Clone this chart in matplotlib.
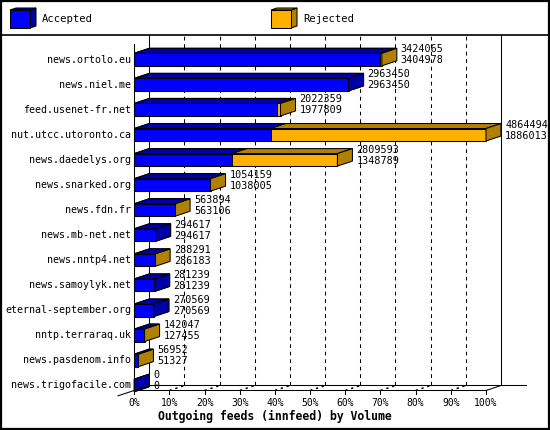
import matplotlib
matplotlib.use("Agg")
import matplotlib.pyplot as plt
from matplotlib.patches import Polygon, Rectangle

# ── Data ──────────────────────────────────────────────────────────────────────
hosts = [
    "news.ortolo.eu", "news.niel.me", "feed.usenet-fr.net", "nut.utcc.utoronto.ca",
    "news.daedelys.org", "news.snarked.org", "news.fdn.fr", "news.mb-net.net",
    "news.nntp4.net", "news.samoylyk.net", "eternal-september.org",
    "nntp.terraraq.uk", "news.pasdenom.info", "news.trigofacile.com",
]
# first number beside each bar (orange bar)
rejected = [3424065, 2963450, 2022359, 4864494, 2809593, 1054159, 563894,
            294617, 288291, 281239, 270569, 142047, 56952, 0]
# second number beside each bar (blue bar)
accepted = [3404978, 2963450, 1977809, 1886013, 1348789, 1038005, 563106,
            294617, 286183, 281239, 270569, 127455, 51327, 0]
pct_ticks = list(range(0, 101, 10))
xlabel = "Outgoing feeds (innfeed) by Volume"

# ── Layout (pixels) ───────────────────────────────────────────────────────────
W, H = 550, 430
X0, PX_PER_PCT = 134.3, 3.517        # 0 % at x=134.3, 100 % at x=486
Y0, PX_PER_ROW = 53.3, 25.07         # top of first bar face
DEPTH_X, DEPTH_Y = 15, 5             # 3-D offset in px
FACE_H = 12.5

BLUE, BLUE_DK = "#0000ff", "#0000a8"
ORANGE, ORANGE_DK = "#ffb000", "#b08000"
MONO = "DejaVu Sans Mono"

fig = plt.figure(figsize=(W / 100, H / 100), dpi=100)

# data axes: x in percent, y in rows (top row = 0)
ax = fig.add_axes([0, 0, 1, 1])
ax.set_xlim(-X0 / PX_PER_PCT, (W - X0) / PX_PER_PCT)
ax.set_ylim((H - Y0) / PX_PER_ROW, -Y0 / PX_PER_ROW)
ax.axis("off")

# pixel overlay for frame / legend
deco = fig.add_axes([0, 0, 1, 1], zorder=3)
deco.set_xlim(0, W)
deco.set_ylim(H, 0)
deco.axis("off")
deco.patch.set_alpha(0)

DX = DEPTH_X / PX_PER_PCT
DY = DEPTH_Y / PX_PER_ROW
FH = FACE_H / PX_PER_ROW


def py(px):
    """pixel y -> row units"""
    return (px - Y0) / PX_PER_ROW


def px_pct(px):
    return (px - X0) / PX_PER_PCT


LW = 0.75
y_front = py(390.5)
y_back = py(385.5)
y_top = py(35)

# ── Grid (back wall) ──────────────────────────────────────────────────────────
for p in pct_ticks[1:-1]:
    ax.plot([p + DX, p + DX], [y_back, y_top], color="black", lw=LW,
            dashes=(3.6, 3.6), zorder=1)
    ax.plot([p, p + DX], [y_front, y_back], color="black", lw=1.1,
            dashes=(1.5, 2.5), zorder=1)

# frame lines
ax.plot([DX, DX], [y_back, y_top], color="black", lw=LW, zorder=1)
ax.plot([100 + DX, 100 + DX], [y_back, y_top], color="black", lw=LW, zorder=1)
ax.plot([DX, px_pct(526)], [y_back, y_back], color="black", lw=LW, zorder=1)
ax.plot([0, 100], [y_front, y_front], color="black", lw=LW, zorder=4)
ax.plot([100, 100 + DX], [y_front, y_back], color="black", lw=LW, zorder=4)
ax.plot([px_pct(118), DX], [py(395.8), y_back], color="black", lw=LW, zorder=4)
ax.plot([0, 0], [py(44), py(394)], color="black", lw=LW, zorder=4)
for p in pct_ticks[1:]:
    ax.plot([p, p], [y_front, py(394.5)], color="black", lw=LW, zorder=4)
    ax.text(p, py(403), f"{p}%", ha="center", va="center", fontsize=7,
            family=MONO)
ax.text(0, py(403), "0%", ha="center", va="center", fontsize=7, family=MONO)

ax.text(px_pct(275), py(416), xlabel, ha="center", va="center",
        fontsize=8.3, family=MONO, fontweight="bold")


# ── Bars ──────────────────────────────────────────────────────────────────────
def faces(p, t):
    front = [(0, t), (p, t), (p, t + FH), (0, t + FH)]
    top = [(0, t), (p, t), (p + DX, t - DY), (DX, t - DY)]
    side = [(p, t), (p + DX, t - DY), (p + DX, t + FH - DY), (p, t + FH)]
    return front, top, side


def poly(pts, color, z):
    ax.add_patch(Polygon(pts, closed=True, facecolor=color, edgecolor="black",
                         lw=LW, zorder=z, joinstyle="miter"))


vmax = max(rejected)
for i, (host, rv, av) in enumerate(zip(hosts, rejected, accepted)):
    t = i
    po = rv / vmax * 100
    pb = av / vmax * 100
    f, tp, s = faces(po, t)
    poly(f, ORANGE, 2)
    poly(tp, ORANGE_DK, 2)
    poly(s, ORANGE_DK, 2)
    f, tp, s = faces(pb, t)
    poly(f, BLUE, 3)
    poly(tp, BLUE_DK, 3)
    if pb >= po:
        poly(s, BLUE_DK, 3)

    ax.text(px_pct(131), t + FH / 2, host, ha="right", va="center",
            fontsize=7.2, family=MONO)
    xt = po + DX + 4 / PX_PER_PCT
    ax.text(xt, t - 4 / PX_PER_ROW, f"{rv}", ha="left", va="center",
            fontsize=7.3, family=MONO, zorder=5)
    ax.text(xt, t + 7 / PX_PER_ROW, f"{av}", ha="left", va="center",
            fontsize=7.3, family=MONO, zorder=5)

# ── Legend & border ───────────────────────────────────────────────────────────
for x, c, cd, lab in [(10, BLUE, BLUE_DK, "Accepted"),
                      (271, ORANGE, ORANGE_DK, "Rejected")]:
    deco.add_patch(Polygon([(x + 20, 10), (x + 26, 8), (x + 26, 26), (x + 20, 28)],
                           facecolor=cd, edgecolor="black", lw=LW))
    deco.add_patch(Polygon([(x, 10), (x + 6, 8), (x + 26, 8), (x + 20, 10)],
                           facecolor=cd, edgecolor="black", lw=LW))
    deco.add_patch(Rectangle((x, 10), 20, 18, facecolor=c, edgecolor="black",
                             lw=LW))
    deco.text(x + 32, 19.5, lab, ha="left", va="center", fontsize=7.6,
              family=MONO)

deco.plot([0, W], [35, 35], color="black", lw=1.2)
deco.add_patch(Rectangle((0.8, 0.8), W - 1.6, H - 1.6, fill=False,
                         edgecolor="black", lw=1.6))

fig.savefig("out.png", dpi=100)
